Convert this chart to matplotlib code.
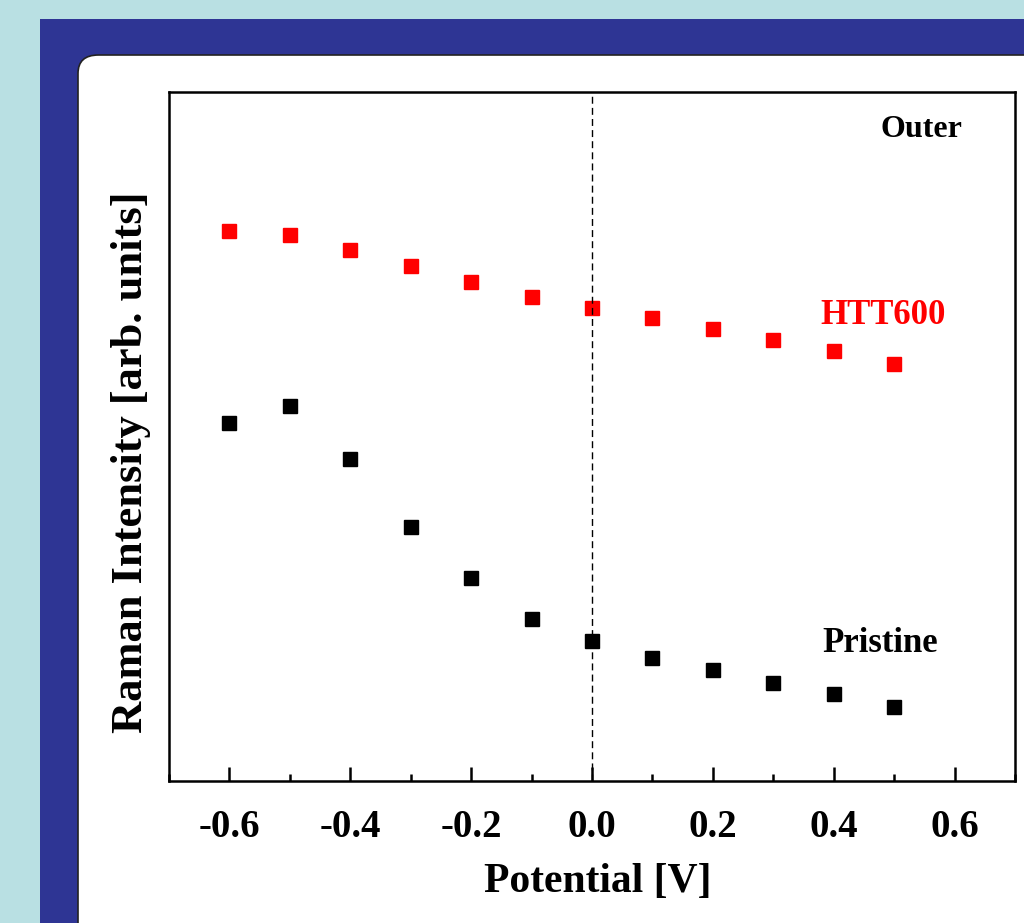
import numpy as np
import matplotlib.pyplot as plt
from matplotlib.patches import Rectangle, FancyBboxPatch
from matplotlib.ticker import MultipleLocator

# potential [V]
potential = [-0.6, -0.5, -0.4, -0.3, -0.2, -0.1, 0.0, 0.1, 0.2, 0.3, 0.4, 0.5]
# Raman intensity, arbitrary units
htt600 = [79.8, 79.2, 77.0, 74.7, 72.4, 70.2, 68.6, 67.2, 65.6, 64.0, 62.4, 60.5]
pristine = [51.9, 54.4, 46.8, 36.9, 29.4, 23.5, 20.3, 17.9, 16.1, 14.2, 12.6, 10.8]
xticks = [-0.6, -0.4, -0.2, 0.0, 0.2, 0.4, 0.6]

W, H = 1024, 923
plt.rcParams['font.family'] = ['Liberation Serif', 'DejaVu Serif']
plt.rcParams['font.weight'] = 'bold'

fig = plt.figure(figsize=(W / 100, H / 100), dpi=100, facecolor='#b9e0e3')

# slide background: blue frame and white rounded panel
fig.patches.append(Rectangle((40 / W, 0), 1, (H - 19) / H, transform=fig.transFigure,
                             facecolor='#2e3594', edgecolor='none', zorder=0))
fig.patches.append(FancyBboxPatch((78 / W, -0.1), 1, (H - 55) / H + 0.1,
                                  boxstyle='round,pad=0,rounding_size=0.02',
                                  transform=fig.transFigure, facecolor='white',
                                  edgecolor='#222222', linewidth=1.2, zorder=1))

ax = fig.add_axes([169 / W, (H - 781) / H, (1015 - 169) / W, (781 - 92) / H])
ax.set_zorder(2)
ax.patch.set_alpha(0)

ax.plot(potential, htt600, 's', color='red', markersize=10)
ax.plot(potential, pristine, 's', color='black', markersize=10)
ax.axvline(0, color='black', linestyle='--', linewidth=1.0, dashes=(5, 3))

ax.set_xlim(-0.7, 0.7)
ax.set_ylim(0, 100)
ax.set_xticks(xticks)
ax.set_xticklabels(['%.1f' % t for t in xticks])
ax.xaxis.set_minor_locator(MultipleLocator(0.1))
ax.set_yticks([])
ax.tick_params(axis='x', which='major', direction='in', length=10, width=1.8,
               labelsize=28, pad=20)
ax.tick_params(axis='x', which='minor', direction='in', length=5, width=1.8)
for s in ax.spines.values():
    s.set_linewidth(1.8)

ax.set_xlabel('Potential [V]', fontsize=30, fontweight='bold')
ax.set_ylabel('Raman Intensity [arb. units]', fontsize=32, fontweight='bold')
ax.xaxis.set_label_coords(0.507, -0.119)
ax.yaxis.set_label_coords(-0.021, 0.463)

ax.text(0.545, 93.5, 'Outer', fontsize=23, fontweight='bold', ha='center', va='baseline')
ax.text(0.482, 66.4, 'HTT600', fontsize=25, fontweight='bold', color='red',
        ha='center', va='baseline')
ax.text(0.477, 18.75, 'Pristine', fontsize=25, fontweight='bold', ha='center', va='baseline')

fig.savefig('out.png', dpi=100, facecolor=fig.get_facecolor())
